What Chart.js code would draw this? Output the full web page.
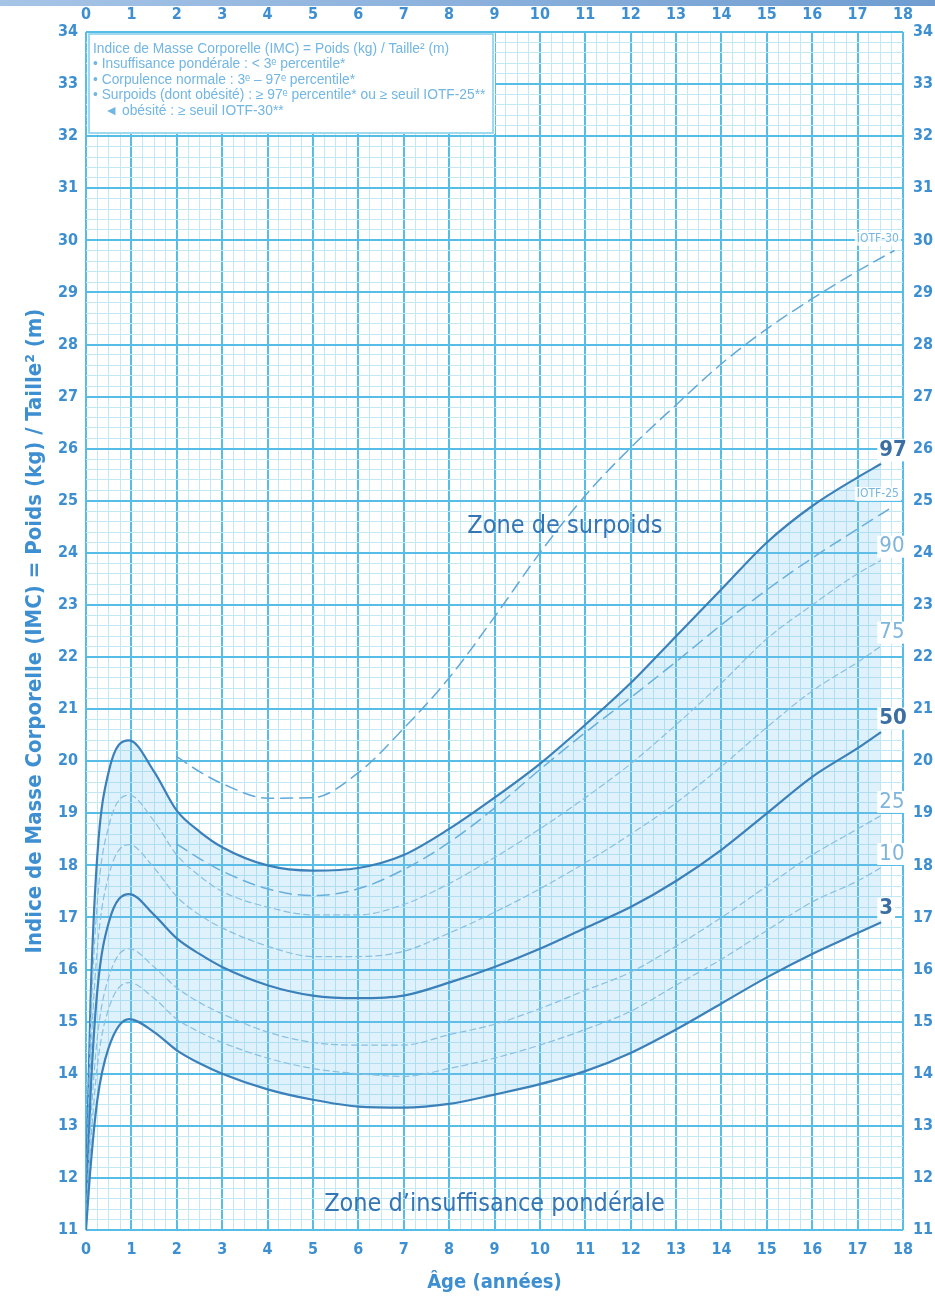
<!DOCTYPE html>
<html lang="fr">
<head>
<meta charset="utf-8">
<title>IMC garçons 0-18 ans</title>
<script src="https://cdn.jsdelivr.net/npm/chart.js@4.4.1/dist/chart.umd.min.js"></script>
<style>
  html, body { margin: 0; padding: 0; background: #fff; }
  #wrap { position: relative; width: 935px; height: 1300px; }
  #topbar { position: absolute; left: 0; top: 0; width: 935px; height: 6px;
    background: linear-gradient(to right, #a6c4e6, #6f9dd1); }
</style>
</head>
<body>
<div id="wrap">
  <canvas id="imc" width="935" height="1300"></canvas>
  <div id="topbar"></div>
</div>
<script>
// ages (années) for the percentile curves
const ages = [0, 0.1, 0.25, 0.5, 0.95, 1.5, 2, 2.5, 3, 4, 5, 6, 7, 8, 9, 10, 11, 12, 13, 14, 15, 16, 17, 17.5];
const p97 = [11.6, 15.4, 18.2, 19.8, 20.4, 19.8, 19.05, 18.65, 18.35, 18.0, 17.9, 17.95, 18.2, 18.7, 19.3, 19.95, 20.7, 21.5, 22.4, 23.3, 24.2, 24.9, 25.45, 25.7];
const p90 = [11.5, 14.8, 17.3, 18.75, 19.35, 18.85, 18.2, 17.8, 17.5, 17.2, 17.05, 17.05, 17.25, 17.65, 18.15, 18.7, 19.3, 19.95, 20.7, 21.5, 22.35, 23.0, 23.6, 23.85];
const p75 = [11.4, 14.2, 16.4, 17.8, 18.4, 17.95, 17.4, 17.05, 16.8, 16.45, 16.25, 16.25, 16.35, 16.7, 17.1, 17.55, 18.05, 18.6, 19.2, 19.9, 20.65, 21.35, 21.9, 22.2];
const p50 = [11.3, 13.6, 15.6, 16.9, 17.45, 17.05, 16.6, 16.3, 16.05, 15.7, 15.5, 15.45, 15.5, 15.75, 16.05, 16.4, 16.8, 17.2, 17.7, 18.3, 19.0, 19.7, 20.25, 20.55];
const p25 = [11.2, 13.0, 14.7, 15.85, 16.4, 16.05, 15.65, 15.37, 15.15, 14.8, 14.6, 14.55, 14.55, 14.75, 14.95, 15.25, 15.6, 15.95, 16.45, 17.0, 17.6, 18.2, 18.7, 18.95];
const p10 = [11.1, 12.6, 14.15, 15.25, 15.75, 15.45, 15.05, 14.8, 14.6, 14.3, 14.1, 14.0, 13.95, 14.1, 14.3, 14.55, 14.85, 15.2, 15.7, 16.2, 16.75, 17.3, 17.7, 17.95];
const p3 = [11.0, 12.2, 13.5, 14.5, 15.05, 14.8, 14.45, 14.2, 14.0, 13.7, 13.5, 13.37, 13.35, 13.42, 13.6, 13.8, 14.05, 14.4, 14.85, 15.35, 15.85, 16.3, 16.7, 16.9];

// seuils IOTF
const iotfAges = [2, 2.5, 3, 4, 5, 6, 7, 8, 9, 10, 11, 12, 13, 14, 15, 16, 17, 17.8];
const iotf25 = [18.41, 18.13, 17.89, 17.55, 17.42, 17.55, 17.92, 18.44, 19.1, 19.84, 20.55, 21.22, 21.91, 22.62, 23.29, 23.9, 24.46, 24.9];
const iotf30 = [20.09, 19.8, 19.57, 19.29, 19.3, 19.78, 20.63, 21.6, 22.77, 24.0, 25.1, 26.02, 26.84, 27.63, 28.3, 28.88, 29.41, 29.8];

const pctLabels = ['3', '10', '25', '50', '75', '90', '97'];
const legendLines = [
  'Indice de Masse Corporelle (IMC) = Poids (kg) / Taille² (m)',
  '• Insuffisance pondérale : < 3ᵉ percentile*',
  '• Corpulence normale : 3ᵉ – 97ᵉ percentile*',
  '• Surpoids (dont obésité) : ≥ 97ᵉ percentile* ou ≥ seuil IOTF-25**',
  '   ◄ obésité : ≥ seuil IOTF-30**'
];

const narrow = "'Liberation Sans Narrow', 'DejaVu Sans Condensed', sans-serif";
const blue = '#3d8fd1';
const majorCol = '#56bde6';
const minorCol = '#c2e8f6';
const solidCol = '#3b80b9';
const dashCol = '#88c0e2';
const iotfCol = '#62a9d8';

function pts(xs, ys) {
  return xs.map((a, i) => ({ x: a, y: ys[i] }));
}
function isMajor(v) {
  return Math.abs(v - Math.round(v)) < 1e-6;
}
function intLabel(v) {
  return isMajor(v) ? String(Math.round(v)) : '';
}

function solid(label, data) {
  return { label: label, data: data, borderColor: solidCol, borderWidth: 2.2, fill: false };
}
function dashed(label, data) {
  return { label: label, data: data, borderColor: dashCol, borderWidth: 1.2, borderDash: [6, 4], fill: false };
}

const datasets = [
  solid('3', pts(ages, p3)),
  dashed('10', pts(ages, p10)),
  dashed('25', pts(ages, p25)),
  solid('50', pts(ages, p50)),
  dashed('75', pts(ages, p75)),
  dashed('90', pts(ages, p90)),
  Object.assign(solid('97', pts(ages, p97)), { fill: 0, backgroundColor: 'rgba(120,198,238,0.24)' }),
  { label: 'IOTF-25', data: pts(iotfAges, iotf25), borderColor: iotfCol, borderWidth: 1.5, borderDash: [12, 7], fill: false },
  { label: 'IOTF-30', data: pts(iotfAges, iotf30), borderColor: iotfCol, borderWidth: 1.5, borderDash: [12, 7], fill: false }
];

// labels, zones and box drawn on top of the curves
const decor = {
  id: 'decor',
  afterDatasetsDraw(chart) {
    const ctx = chart.ctx;
    const x = chart.scales.x, y = chart.scales.y;
    ctx.save();

    // percentile names at the end of each curve
    ctx.textBaseline = 'middle';
    ctx.textAlign = 'left';
    for (let i = 0; i < 7; i++) {
      const meta = chart.getDatasetMeta(i);
      const last = meta.data[meta.data.length - 1];
      const main = (i === 0 || i === 3 || i === 6);
      ctx.font = (main ? 'bold ' : '') + '22px ' + narrow;
      const w = ctx.measureText(pctLabels[i]).width;
      const lx = last.x - 1, ly = last.y - 14;
      ctx.fillStyle = '#fff';
      ctx.fillRect(lx - 2, ly - 11, w + 4, 22);
      ctx.fillStyle = main ? '#3b6fa3' : '#7db5dc';
      ctx.fillText(pctLabels[i], lx, ly);
    }

    // IOTF labels
    ctx.font = '12px ' + narrow;
    ctx.textAlign = 'right';
    [7, 8].forEach(function (i) {
      const meta = chart.getDatasetMeta(i);
      const last = meta.data[meta.data.length - 1];
      const t = chart.data.datasets[i].label;
      const w = ctx.measureText(t).width;
      ctx.fillStyle = 'rgba(255,255,255,0.85)';
      ctx.fillRect(last.x + 5 - w - 2, last.y - 19, w + 4, 14);
      ctx.fillStyle = '#79b6df';
      ctx.fillText(t, last.x + 5, last.y - 12);
    });

    // zone titles
    ctx.font = '25px ' + narrow;
    ctx.textAlign = 'center';
    ctx.fillStyle = '#3476b5';
    ctx.fillText('Zone de surpoids', x.getPixelForValue(10.55), y.getPixelForValue(24.5));
    ctx.fillText('Zone d\u2019insuffisance pondérale', x.getPixelForValue(9.0), y.getPixelForValue(11.48));

    // definition box
    const bx = chart.chartArea.left + 1, by = chart.chartArea.top + 1;
    ctx.fillStyle = '#fff';
    ctx.fillRect(bx, by, 408, 101);
    ctx.strokeStyle = '#7fcdeb';
    ctx.lineWidth = 1.5;
    ctx.strokeRect(bx + 2, by + 1, 404, 99);
    ctx.font = '13.8px "Liberation Sans", Arial, sans-serif';
    ctx.textAlign = 'left';
    ctx.fillStyle = '#72b6e3';
    legendLines.forEach(function (t, k) {
      ctx.fillText(t, bx + 6, by + 16 + k * 15.5);
    });
    ctx.restore();
  }
};

const tickFont = { family: narrow, size: 16, weight: 'bold' };

new Chart(document.getElementById('imc').getContext('2d'), {
  type: 'line',
  data: { datasets: datasets },
  options: {
    responsive: false,
    animation: false,
    devicePixelRatio: 1,
    layout: { padding: 0 },
    elements: {
      point: { radius: 0 },
      line: { cubicInterpolationMode: 'monotone', borderJoinStyle: 'round', borderCapStyle: 'round' }
    },
    plugins: { legend: { display: false }, tooltip: { enabled: false } },
    scales: {
      x: {
        type: 'linear', position: 'bottom', min: 0, max: 18,
        afterFit: function (s) { s.height = 70; },
        ticks: { stepSize: 0.25, autoSkip: false, maxRotation: 0, padding: 10, color: blue, font: tickFont, callback: intLabel },
        grid: {
          drawTicks: false,
          color: function (c) { return c.tick && isMajor(c.tick.value) ? majorCol : minorCol; },
          lineWidth: function (c) { return c.tick && isMajor(c.tick.value) ? 2 : 1; }
        },
        border: { display: false },
        title: { display: true, text: 'Âge (années)', color: blue, font: { family: narrow, size: 20, weight: 'bold' }, padding: { top: 0, bottom: 5 } }
      },
      xTop: {
        type: 'linear', axis: 'x', position: 'top', min: 0, max: 18, display: true,
        afterFit: function (s) { s.height = 32; },
        ticks: { stepSize: 1, autoSkip: false, maxRotation: 0, padding: 8, color: blue, font: tickFont },
        grid: { display: false, drawTicks: false },
        border: { display: false }
      },
      y: {
        type: 'linear', position: 'left', min: 11, max: 34,
        afterFit: function (s) { s.width = 86; },
        ticks: { stepSize: 0.2, autoSkip: false, padding: 8, color: blue, font: tickFont, callback: intLabel },
        grid: {
          drawTicks: false,
          color: function (c) { return c.tick && isMajor(c.tick.value) ? majorCol : minorCol; },
          lineWidth: function (c) { return c.tick && isMajor(c.tick.value) ? 2 : 1; }
        },
        border: { display: false },
        title: { display: true, text: 'Indice de Masse Corporelle (IMC) = Poids (kg) / Taille² (m)', color: blue, font: { family: narrow, size: 22, weight: 'bold' }, padding: { top: 22, bottom: 0 } }
      },
      yRight: {
        type: 'linear', axis: 'y', position: 'right', min: 11, max: 34, display: true,
        afterFit: function (s) { s.width = 32; },
        ticks: { stepSize: 1, autoSkip: false, padding: 10, color: blue, font: tickFont },
        grid: { display: false, drawTicks: false },
        border: { display: false }
      }
    }
  },
  plugins: [decor]
});
</script>
</body>
</html>
